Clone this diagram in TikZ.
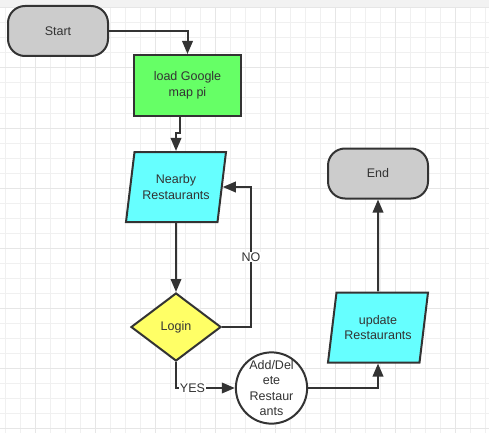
\documentclass[tikz,border=0pt]{standalone}
\usepackage{fontspec}
\setmainfont{Liberation Sans}
\usetikzlibrary{shapes.geometric, arrows.meta, positioning, calc}
\definecolor{fcline}{HTML}{333333}
\definecolor{fcgrey}{HTML}{CCCCCC}
\definecolor{fcgreen}{HTML}{66FF66}
\definecolor{fccyan}{HTML}{66FFFF}
\definecolor{fcyellow}{HTML}{FFFF66}
\definecolor{gridminor}{HTML}{F0F0F0}
\definecolor{gridmajor}{HTML}{E6E6E6}
\definecolor{gridband}{HTML}{F2F2F2}
\tikzset{
  fc node/.style={
    draw=fcline, line width=2pt, text=fcline,
    font=\fontsize{12.5}{15.5}\selectfont,
    align=center, inner sep=2pt
  },
  fc term/.style={
    fc node, rectangle, rounded corners=17pt, fill=fcgrey,
    minimum width=100pt, minimum height=50pt
  },
  fc process/.style={
    fc node, rectangle, fill=fcgreen,
    minimum width=107pt, minimum height=61pt
  },
  fc io/.style={
    fc node, trapezium, trapezium left angle=71, trapezium right angle=109,
    trapezium stretches body=true, fill=fccyan,
    minimum width=100pt, minimum height=70pt, inner sep=0pt
  },
  fc decision/.style={
    fc node, diamond, fill=fcyellow, aspect=1.32,
    minimum width=90pt, minimum height=68pt, inner sep=0pt
  },
  fc connector/.style={
    fc node, circle, fill=white, minimum size=70pt, inner sep=0pt
  },
  fc arrow/.style={
    -{Triangle[length=13pt, width=10.5pt]}, line width=2pt, draw=fcline
  },
  fc label/.style={
    font=\fontsize{12.5}{15}\selectfont, text=fcline, fill=white, inner sep=1pt
  }
}

\begin{document}
\begin{tikzpicture}[x=1pt, y=-1pt]
  \useasboundingbox (0,0) rectangle (489,433);
  % background grid
  \fill[gridband] (0,0) rectangle (489,8);
  \foreach \x in {5.5,20.5,...,488}
    \draw[gridminor, line width=1pt] (\x,8) -- (\x,433);
  \foreach \y in {23,38,...,433}
    \draw[gridminor, line width=1pt] (0,\y) -- (489,\y);
  \foreach \x in {35.5,95.5,...,488}
    \draw[gridmajor, line width=1pt] (\x,8) -- (\x,433);
  \foreach \y in {8,68,...,433}
    \draw[gridmajor, line width=1pt] (0,\y) -- (489,\y);

  % nodes
  \node (start) [fc term] at (58,31) {Start};
  \node (load) [fc process] at (187.5,85.5) {load Google\\map pi};
  \node (nearby) [fc io] at (176,187) {Nearby\\Restaurants};
  \node (login) [fc decision] at (176,327) {Login};
  \node (adddel) [fc connector] at (271.5,388) {Add/Del\\ete\\Restaur\\ants};
  \node (update) [fc io] at (378,327.5) {update\\Restaurants};
  \node (end) [fc term] at (378,173.5) {End};

  % connectors
  \draw [fc arrow] (start.east) -| (load.north);
  \draw [fc arrow] ([xshift=-7.5pt]load.south) -- ++(0,16) -| (nearby.north);
  \draw [fc arrow] (nearby.south) -- (login.north);
  \draw [fc arrow] (login.east) -- ++(29,0) |- node[fc label, pos=0.25] {NO} (nearby.east);
  \draw [fc arrow] (login.south) |- node[fc label, pos=0.64] {YES} (adddel.west);
  \draw [fc arrow] (adddel.east) -| (update.south);
  \draw [fc arrow] (update.north) -- (end.south);
\end{tikzpicture}
\end{document}
